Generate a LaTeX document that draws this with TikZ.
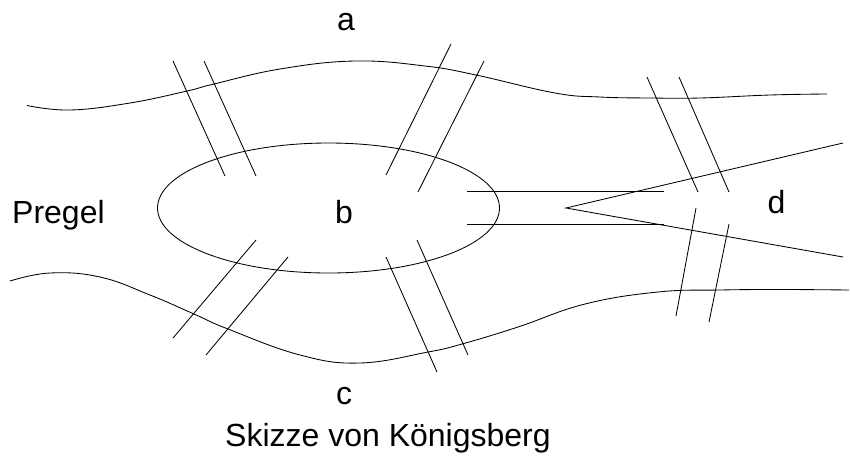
\documentclass[tikz,border=0pt]{standalone}
\usepackage{fontspec}
\setmainfont{Liberation Sans}
\tikzset{lbl/.style={inner sep=0pt,anchor=base west,font=\fontsize{32}{38}\selectfont,text=black},
 ln/.style={draw=black,line width=0.85pt}}
\begin{document}
\begin{tikzpicture}[x=1pt,y=-1pt]
\useasboundingbox (0,0) rectangle (850,456);
\fill[white] (0,0) rectangle (850,456);
\node[lbl] (a) at (337,30) {a};
\node[lbl] (b) at (335,223) {b};
\node[lbl] (c) at (336,404) {c};
\node[lbl] (d) at (767.5,213) {d};
\node[lbl] (pregel) at (12,223) {Pregel};
\node[lbl] (title) at (225,446) {Skizze von Königsberg};
% upper bank
\draw[ln] plot[smooth,tension=0.7] coordinates {(27,105.5) (70,110) (130,103) (187,91) (214,84) (280,69) (355,61) (425,66) (476,75) (555,93) (600,97) (650,98) (700,98) (770,95) (827,94)};
% lower bank
\draw[ln] plot[smooth,tension=0.7] coordinates {(10,281) (50,273) (100,277) (150,295) (194,314) (228,329) (300,355) (360,363) (428,352) (462,344) (518,327) (585,304) (658,292) (720,290) (780,289.5) (849,290)};
% island
\draw[ln] (328.5,208) ellipse [x radius=171,y radius=65];
% bridges a-b
\draw[ln] (173,61) -- (225,176);
\draw[ln] (204,61) -- (256,176);
\draw[ln] (451,44) -- (386,175);
\draw[ln] (484,61) -- (418,192);
% bridges b-c
\draw[ln] (256,240) -- (173,338);
\draw[ln] (288,257) -- (206,355);
\draw[ln] (386,257) -- (437,372);
\draw[ln] (417,240) -- (468,355);
% bridges a-d
\draw[ln] (647,77) -- (698,192);
\draw[ln] (679,77) -- (729,192);
% bridges c-d
\draw[ln] (696,208) -- (676,316);
\draw[ln] (729,224) -- (709,322);
% river arm
\draw[ln] (467,191.7) -- (664,191.7);
\draw[ln] (467,224.3) -- (664,224.3);
\draw[ln] (843,143) -- (566,208) -- (843,257);
\end{tikzpicture}
\end{document}
